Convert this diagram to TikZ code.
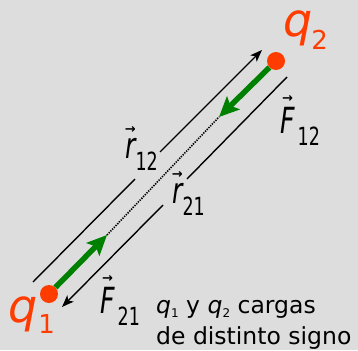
\documentclass[tikz,border=0pt]{standalone}
\usepackage{fontspec}
\setmainfont{DejaVu Sans}
\newfontfamily\condfont[FakeStretch=0.7]{DejaVu Sans}
\usetikzlibrary{arrows.meta}
\definecolor{bggray}{RGB}{221,221,221}
\definecolor{chargered}{RGB}{255,60,0}
\definecolor{forcegreen}{RGB}{0,128,0}
% small arrow over a letter
\newcommand\vecarrow[1]{\setbox0\hbox{#1}\rlap{\hbox to \wd0{\hss\raisebox{\dimexpr\ht0+4pt\relax}{\rmfamily\bfseries\upshape\fontsize{13}{13}\selectfont →}\hss}}\box0}
\newcommand\vecsub[1]{\raisebox{-12pt}{\upshape\fontsize{25}{25}\selectfont #1}}

\begin{document}
\begin{tikzpicture}[
    x=1pt, y=-1pt,
    charge/.style={circle, fill=chargered, minimum size=18pt, inner sep=0pt},
    chargelbl/.style={anchor=base west, inner sep=0pt, text=chargered, font=\fontsize{46}{46}\selectfont\itshape},
    veclbl/.style={anchor=base west, inner sep=0pt, font=\condfont\fontsize{36}{36}\selectfont\itshape},
    note/.style={anchor=base west, inner sep=0pt, font=\fontsize{23.5}{23.5}\selectfont},
    force/.style={-{Stealth[length=20pt, width=18pt, inset=4pt]}, line width=5.5pt, forcegreen},
    vecline/.style={line width=1.4pt},
    arr/.style={vecline, -{Stealth[length=12pt, width=9pt, inset=3pt]}},
]
% Background
\fill[bggray] (0,0) rectangle (358,350);
\useasboundingbox (0,0) rectangle (358,350);

% Charges
\node[charge] (q1) at (49,294) {};
\node[charge] (q2) at (276,61) {};
\node[chargelbl] (q1lab) at (8,322) {q\hspace{1pt}\raisebox{-11pt}{\upshape\fontsize{26}{26}\selectfont 1}};
\node[chargelbl] (q2lab) at (283,37) {q\hspace{-1pt}\raisebox{-13pt}{\upshape\fontsize{26}{26}\selectfont 2}};

% Tips and ends of the lines
\coordinate (f21tip) at (107,235);
\coordinate (f12tip) at (219,117);
\coordinate (r12start) at (33,282);
\coordinate (r12gapA) at (135,179);
\coordinate (r12gapB) at (160,152);
\coordinate (r12end) at (262,50);
\coordinate (r21start) at (287,77);
\coordinate (r21gapA) at (187,179);
\coordinate (r21gapB) at (163,205);
\coordinate (r21end) at (62,307);

% Forces
\draw[line width=1.6pt, dash pattern=on 1.3pt off 1.2pt] (f21tip) -- (f12tip);
\draw[force] (q1) -- (f21tip);
\draw[force] (q2) -- (f12tip);

% Position vectors
\draw[vecline] (r12start) -- (r12gapA);
\draw[arr] (r12gapB) -- (r12end);
\draw[vecline] (r21start) -- (r21gapA);
\draw[arr] (r21gapB) -- (r21end);

% Labels
\node[veclbl] (r12lab) at (125,158) {\vecarrow{r}\vecsub{12}};
\node[veclbl] (r21lab) at (172,203) {\vecarrow{r}\vecsub{21}};
\node[veclbl] (f12lab) at (280,133) {\vecarrow{F}\hspace{3pt}\vecsub{12}};
\node[veclbl] (f21lab) at (100,313) {\vecarrow{F}\hspace{3pt}\vecsub{21}};

% Note
\node[note] (note1) at (156,313) {\textit{q}\raisebox{-4pt}{\fontsize{12}{12}\selectfont 1} y \textit{q}\raisebox{-4pt}{\fontsize{12}{12}\selectfont 2} cargas};
\node[note] (note2) at (156,344) {de distinto signo};
\end{tikzpicture}
\end{document}
